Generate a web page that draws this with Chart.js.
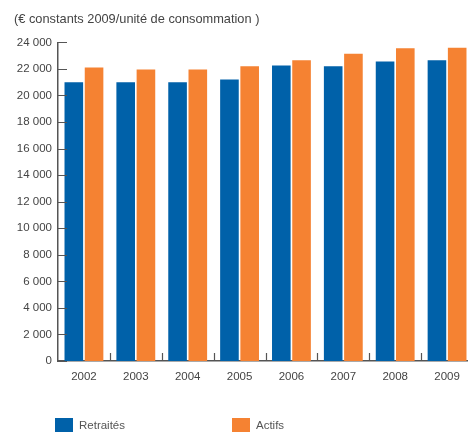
<!DOCTYPE html>
<html>
<head>
<meta charset="utf-8">
<script src="https://cdn.jsdelivr.net/npm/chart.js@4.4.1/dist/chart.umd.min.js"></script>
<style>
    html, body { margin: 0; padding: 0; background: #fff; overflow: hidden; }
    #wrap { position: relative; width: 468px; height: 433px; overflow: hidden; }
    #chart_box { position: absolute; left: 0; top: 0; width: 480px; height: 433px; }
    .legend { position: absolute; top: 418px; font: 11.5px "Liberation Sans", Arial, sans-serif; color: #555; }
    .legend span.box { position: absolute; left: 0; top: 0; width: 18px; height: 14px; }
    .legend span.txt { position: absolute; left: 24px; top: 1px; white-space: nowrap; }
</style>
</head>
<body>
<div id="wrap">
    <div id="chart_box"><canvas id="revenus_chart" width="480" height="433"></canvas></div>
    <div class="legend" style="left:55px"><span class="box" style="background:#0061a9"></span><span class="txt">Retraités</span></div>
    <div class="legend" style="left:232px"><span class="box" style="background:#f58232"></span><span class="txt">Actifs</span></div>
</div>
<script>
const years = ["2002", "2003", "2004", "2005", "2006", "2007", "2008", "2009"];
const retraites = [21000, 21000, 21000, 21200, 22250, 22200, 22550, 22650];
const actifs = [22100, 21950, 21950, 22200, 22650, 23150, 23550, 23600];
const titleText = "(€ constants 2009/unité de consommation )";

// petits traits vers l'intérieur sur les deux axes
const innerTicks = {
    id: 'innerTicks',
    afterDatasetsDraw(chart) {
        const ctx = chart.ctx;
        const x = chart.scales.x, y = chart.scales.y;
        ctx.save();
        ctx.strokeStyle = "#555";
        ctx.lineWidth = 1.2;
        ctx.beginPath();
        y.ticks.forEach((t, i) => {
            const py = Math.round(y.getPixelForTick(i)) + 0.5;
            ctx.moveTo(x.left, py);
            ctx.lineTo(x.left + 9, py);
        });
        for (let i = 1; i < years.length; i++) {
            const px = Math.round((x.getPixelForTick(i - 1) + x.getPixelForTick(i)) / 2) + 0.5;
            ctx.moveTo(px, y.bottom);
            ctx.lineTo(px, y.bottom - 8);
        }
        ctx.stroke();
        ctx.restore();
    }
};

const ctx = document.getElementById("revenus_chart").getContext("2d");
const revenus_chart = new Chart(ctx, {
    type: 'bar',
    data: {
        labels: years,
        datasets: [
            { label: 'Retraités', data: retraites, backgroundColor: '#0061a9', categoryPercentage: 0.78, barPercentage: 0.92 },
            { label: 'Actifs', data: actifs, backgroundColor: '#f58232', categoryPercentage: 0.78, barPercentage: 0.92 },
        ]
    },
    options: {
        responsive: false, animation: false,
        layout: { padding: { left: 14, right: 7, top: 0, bottom: 0 } },
        plugins: {
            legend: { display: false },
            tooltip: { enabled: false },
            title: {
                display: true, text: titleText, align: 'start', color: '#444',
                font: { family: "'Liberation Sans', Arial, sans-serif", size: 12.8, weight: 'normal' },
                padding: { top: 12, bottom: 15 },
            },
        },
        scales: {
            x: {
                grid: { display: false, drawTicks: false },
                border: { display: true, color: '#555', width: 1.5 },
                ticks: { color: '#444', padding: 9, font: { family: "'Liberation Sans', Arial, sans-serif", size: 11.5 } },
                afterFit: (scale) => { scale.height = 72; },
            },
            y: {
                min: 0, max: 24000,
                grid: { display: false, drawTicks: false },
                border: { display: true, color: '#555', width: 1.5 },
                ticks: {
                    stepSize: 2000, color: '#444', padding: 6,
                    font: { family: "'Liberation Sans', Arial, sans-serif", size: 11.5 },
                    callback: (v) => v.toLocaleString('fr-FR').replace(/\s/g, ' '),
                },
                afterFit: (scale) => { scale.width = 44; },
            }
        },
    },
    plugins: [innerTicks],
});
</script>
</body>
</html>
